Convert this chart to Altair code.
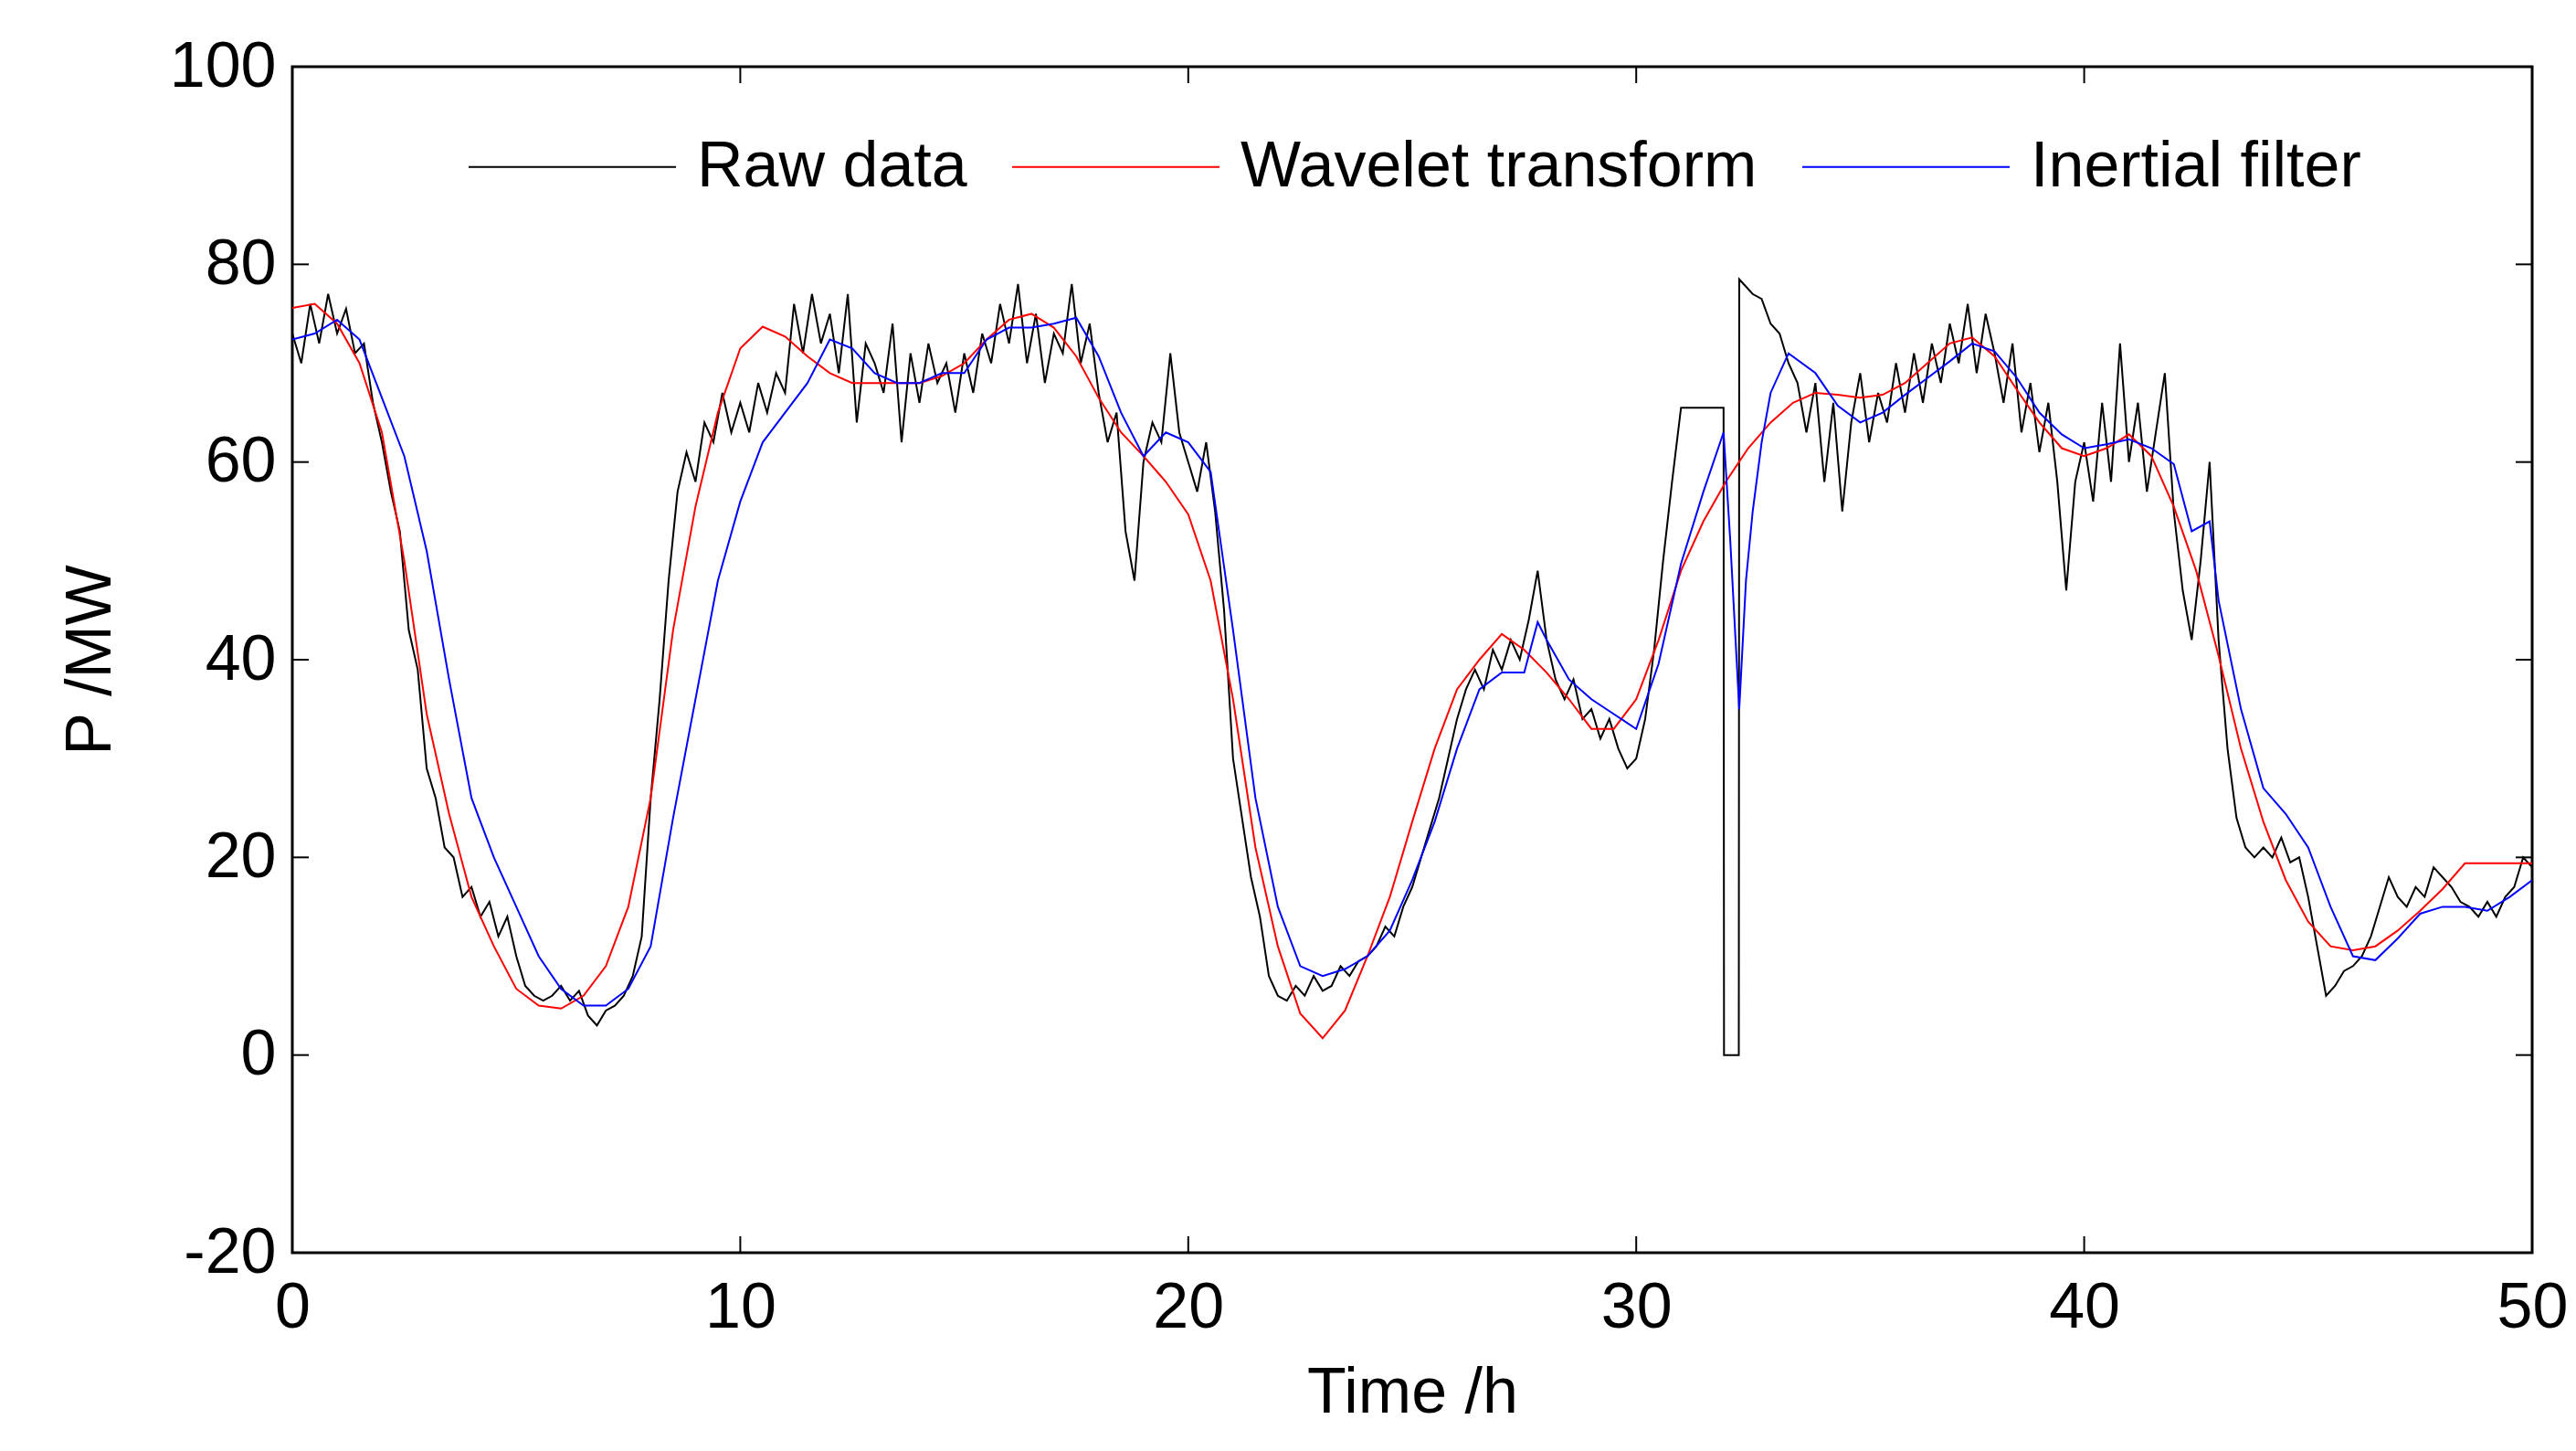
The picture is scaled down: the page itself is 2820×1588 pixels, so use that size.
import altair as alt
import pandas as pd

# ---------------- data ----------------
raw_step = 0.2  # hours between raw samples
raw_values = [
    73, 70, 76, 72, 77, 73, 75.5, 71, 72, 66,
    62, 57, 53, 43, 39, 29, 26, 21, 20, 16,
    17, 14, 15.5, 12, 14, 10, 7, 6, 5.5, 6,
    7, 5.5, 6.5, 4, 3, 4.5, 5, 6, 8, 12,
    26, 36, 48, 57, 61, 58, 64, 62, 67, 63,
    66, 63, 68, 65, 69, 67, 76, 71, 77, 72,
    75, 69, 77, 64, 72, 70, 67, 74, 62, 71,
    66, 72, 68, 70, 65, 71, 67, 73, 70, 76,
    72, 78, 70, 75, 68, 73, 71, 78, 70, 74,
    67, 62, 65, 53, 48, 60, 64, 62, 71, 63,
    60, 57, 62, 55, 45, 30, 24, 18, 14, 8,
    6, 5.5, 7, 6, 8, 6.5, 7, 9, 8, 9.5,
    10, 11, 13, 12, 15, 17, 20, 23, 26, 30,
    34, 37, 39, 37, 41, 39, 42, 40, 44, 49,
    42, 38, 36, 38, 34, 35, 32, 34, 31, 29,
    30, 34, 41, 50, 58, 65.5, 65.5, 65.5, 65.5, 65.5,
    0, 0, 78, 77, 76.5, 74, 73, 70, 68, 63,
    68, 58, 66, 55, 64, 69, 62, 67, 64, 70,
    65, 71, 66, 72, 68, 74, 70, 76, 69, 75,
    71, 66, 72, 63, 68, 61, 66, 58, 47, 58,
    62, 56, 66, 58, 72, 60, 66, 57, 63, 69,
    55, 47, 42, 50, 60, 42, 31, 24, 21, 20,
    21, 20, 22, 19.5, 20, 16, 11, 6, 7, 8.5,
    9, 10, 12, 15, 18, 16, 15, 17, 16, 19,
    18, 17, 15.5, 15, 14, 15.5, 14, 16, 17, 20,
    19,
]
# outage: hold at 65.5, drop to zero, jump back
raw_extra_t = [31.95, 31.96, 32.29, 32.3]
raw_extra_p = [65.5, 0, 0, 78.5]

wavelet_step = 0.5
wavelet_values = [
    75.6, 76, 74, 70, 63, 50, 34.5, 24.4, 16, 11,
    6.7, 5, 4.7, 6, 9, 15, 26, 43, 55.5, 65,
    71.5, 73.7, 72.7, 70.7, 69, 68, 68, 68, 68, 68.7,
    70, 72.4, 74.4, 75, 73.6, 70.7, 66.5, 63, 60.6, 58,
    54.7, 48, 36, 21, 11, 4.2, 1.7, 4.5, 10, 16,
    23.6, 31, 37, 40, 42.6, 41, 38.7, 36, 33, 33,
    36, 42, 49, 54, 58, 61.4, 64, 66, 67, 66.8,
    66.5, 66.8, 68, 70, 72, 72.6, 70.7, 67.3, 64, 61.4,
    60.6, 61.4, 62.8, 60.6, 55.5, 49, 40.4, 31, 23.6, 17.7,
    13.5, 11, 10.6, 11, 12.6, 14.6, 16.8, 19.4, 19.4, 19.4,
    19.4,
]

inertial_t = [
    0, 0.5, 1, 1.5, 2, 2.5, 3, 3.5, 4, 4.5,
    5, 5.5, 6, 6.5, 7, 7.5, 8, 8.5, 9, 9.5,
    10, 10.5, 11, 11.5, 12, 12.5, 13, 13.5, 14, 14.5,
    15, 15.5, 16, 16.5, 17, 17.5, 18, 18.5, 19, 19.5,
    20, 20.5, 21, 21.5, 22, 22.5, 23, 23.5, 24, 24.5,
    25, 25.5, 26, 26.5, 27, 27.5, 27.8, 28, 28.5, 29, 29.5,
    30, 30.5, 31, 31.5, 31.95, 32.1, 32.3, 32.45, 32.6, 32.8, 33.0, 33.4,
    34, 34.5, 35, 35.5, 36, 36.5, 37, 37.5, 38, 38.5, 39, 39.5,
    40, 40.5, 41, 41.5, 42, 42.4, 42.8, 43, 43.5, 44, 44.5,
    45, 45.5, 46, 46.5, 47, 47.5, 48, 48.5, 49, 49.5, 50,
]
inertial_p = [
    72.4, 73, 74.4, 72.4, 66.5, 60.6, 51, 38, 26, 20,
    15, 10, 6.7, 5, 5, 6.7, 11, 24, 36, 48,
    56, 62, 65, 68, 72.4, 71.5, 69, 68, 68, 69,
    69, 72.4, 73.6, 73.6, 74, 74.6, 70.7, 65, 60.6, 63,
    62, 59, 43, 26, 15, 9, 8, 8.7, 10, 12.6,
    17.7, 23.6, 31, 37, 38.7, 38.7, 43.8, 42, 38, 36, 34.5,
    33, 39.6, 49.7, 57, 63, 52, 35, 48, 55, 62, 67, 71,
    69, 65.7, 64, 65, 66.8, 68.5, 70.2, 72, 71.2, 68.5, 65, 62.8,
    61.4, 61.8, 62.3, 61.4, 59.8, 53, 54, 46, 35, 27, 24.4,
    21, 15, 10, 9.6, 11.8, 14.3, 15, 15, 14.6, 16, 17.7,
]

series_names = ["Raw data", "Wavelet transform", "Inertial filter"]
series_colors = ["#000000", "#ff0000", "#0000ff"]
x_ticks = [0, 10, 20, 30, 40, 50]
y_ticks = [-20, 0, 20, 40, 60, 80, 100]

# ---------------- tables ----------------
raw_df = pd.DataFrame({
    "t": [round(i * raw_step, 3) for i in range(len(raw_values))] + raw_extra_t,
    "p": raw_values + raw_extra_p,
})
raw_df = raw_df.sort_values("t", kind="stable").reset_index(drop=True)
raw_df["series"] = series_names[0]

wav_df = pd.DataFrame({
    "t": [round(i * wavelet_step, 3) for i in range(len(wavelet_values))],
    "p": wavelet_values,
})
wav_df["series"] = series_names[1]

ine_df = pd.DataFrame({"t": inertial_t, "p": inertial_p})
ine_df["series"] = series_names[2]

xtick_df = pd.DataFrame({"t": x_ticks})
ytick_df = pd.DataFrame({"p": y_ticks})

# ---------------- layout ----------------
W, H = 2452, 1298
TICK = 18
FONT = "Liberation Sans"
FS = 70

xs = alt.Scale(domain=[0, 50], nice=False, zero=False)
ys = alt.Scale(domain=[-20, 100], nice=False, zero=False)

x_axis = alt.Axis(values=x_ticks, tickSize=0, domain=False, grid=False,
                  labelFont=FONT, labelFontSize=FS, labelColor="black",
                  labelPadding=26, labelFlush=False,
                  labelExpr="toString(datum.value)",
                  titleFont=FONT, titleFontSize=FS, titleFontWeight="normal",
                  titleColor="black", titlePadding=24, title="Time /h")
y_axis = alt.Axis(values=y_ticks, tickSize=0, domain=False, grid=False,
                  labelFont=FONT, labelFontSize=FS, labelColor="black",
                  labelPadding=18, labelFlush=False,
                  labelExpr="toString(datum.value)",
                  titleFont=FONT, titleFontSize=FS, titleFontWeight="normal",
                  titleColor="black", titlePadding=50, title="P /MW")

X = alt.X("t:Q", scale=xs, axis=x_axis)
Y = alt.Y("p:Q", scale=ys, axis=y_axis)

legend = alt.Legend(orient="none", legendX=192, legendY=-5, direction="horizontal",
                    title=None, symbolType="stroke", symbolSize=227 * 227,
                    symbolStrokeWidth=2, labelFont=FONT, labelFontSize=FS,
                    labelColor="black", labelOffset=22, columnPadding=45,
                    labelLimit=0, padding=0)
C = alt.Color("series:N",
              scale=alt.Scale(domain=series_names, range=series_colors),
              legend=legend)


def series_layer(df):
    return alt.Chart(df).mark_line(strokeWidth=2, clip=True).encode(
        x=X, y=Y, color=C, order="t:Q")


raw_layer = series_layer(raw_df)
wav_layer = series_layer(wav_df)
ine_layer = series_layer(ine_df)

xt_bottom = alt.Chart(xtick_df).mark_rule(color="black", strokeWidth=2).encode(
    x=X, y=alt.value(H), y2=alt.value(H - TICK))
xt_top = alt.Chart(xtick_df).mark_rule(color="black", strokeWidth=2).encode(
    x=X, y=alt.value(0), y2=alt.value(TICK))
yt_left = alt.Chart(ytick_df).mark_rule(color="black", strokeWidth=2).encode(
    y=Y, x=alt.value(0), x2=alt.value(TICK))
yt_right = alt.Chart(ytick_df).mark_rule(color="black", strokeWidth=2).encode(
    y=Y, x=alt.value(W), x2=alt.value(W - TICK))

chart = alt.layer(
    raw_layer, wav_layer, ine_layer, xt_bottom, xt_top, yt_left, yt_right
).properties(
    width=W, height=H,
    autosize=alt.AutoSizeParams(type="none"),
    padding={"left": 312, "top": 65, "right": 40, "bottom": 200},
    background="white",
).configure_view(stroke="black", strokeWidth=3)

chart.save("out.html", embed_options={"renderer": "svg", "actions": False})
